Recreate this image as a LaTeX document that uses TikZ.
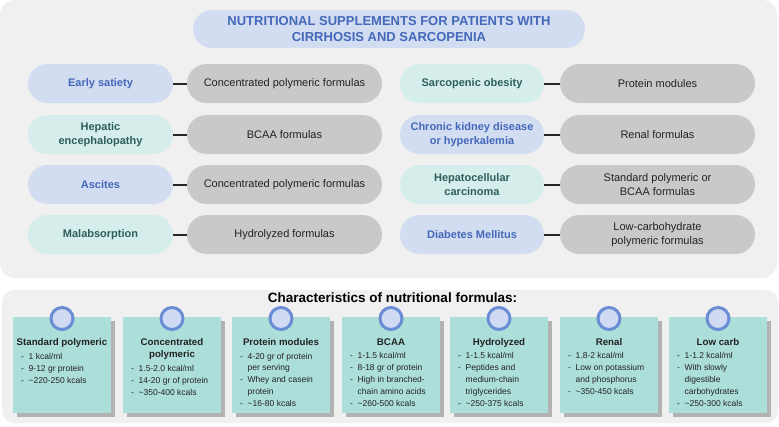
\documentclass[tikz,border=0pt]{standalone}
\usepackage{fontspec}
\setmainfont{Liberation Sans}
\usetikzlibrary{shadows}
\definecolor{panelbg}{HTML}{F0F0F0}
\definecolor{bluefill}{HTML}{D3DDF1}
\definecolor{bluetext}{HTML}{4468BA}
\definecolor{tealfill}{HTML}{D5EEEC}
\definecolor{tealtext}{HTML}{2D5E5C}
\definecolor{greyfill}{HTML}{C9C9C9}
\definecolor{cardfill}{HTML}{ADDFDA}
\definecolor{pinline}{HTML}{6A8DD6}
\definecolor{pinfill}{HTML}{D0DAF2}
\definecolor{shadowgrey}{HTML}{B2B2B2}
\definecolor{textdark}{HTML}{222222}
\tikzset{
  panel/.style={fill=panelbg, draw=none},
  pill/.style={rectangle, rounded corners=19.5pt, minimum height=39pt, inner sep=0pt, align=center},
  bluepill/.style={pill, fill=bluefill, text=bluetext, minimum width=145pt, font=\bfseries\fontsize{11}{13.4}\selectfont},
  tealpill/.style={pill, fill=tealfill, text=tealtext, minimum width=145pt, font=\bfseries\fontsize{11}{13.4}\selectfont},
  greypill/.style={pill, fill=greyfill, text=textdark, minimum width=195pt, font=\fontsize{11}{13.8}\selectfont},
  titlepill/.style={rectangle, rounded corners=19pt, fill=bluefill, text=bluetext, minimum width=392pt, minimum height=38pt, inner sep=0pt, align=center, font=\bfseries\fontsize{13}{16}\selectfont},
  conn/.style={line width=2pt, draw=black!85},
  card/.style={rectangle, fill=cardfill, minimum width=98pt, minimum height=95.5pt, inner sep=0pt,
    drop shadow={shadow xshift=4pt, shadow yshift=-4pt, fill=shadowgrey, opacity=1}},
  pinc/.style={circle, draw=pinline, line width=3pt, fill=pinfill, minimum size=22pt, inner sep=0pt},
  hd/.style={font=\bfseries\fontsize{9.7}{12}\selectfont, text=textdark, inner sep=0pt, anchor=base},
  itm/.style={font=\fontsize{8.5}{12}\selectfont, text=textdark, inner sep=0pt, anchor=base west},
  sectitle/.style={font=\bfseries\fontsize{13.5}{16}\selectfont, text=black, inner sep=0pt}
}
\newcommand\dashitem[4]{\node[itm] (#1) at (#2+8,#3) {\makebox[7.5pt][l]{-}#4};}
\newcommand\contitem[4]{\node[itm] (#1) at (#2+15.5,#3) {#4};}
\begin{document}
\begin{tikzpicture}[x=1pt,y=-1pt]
\useasboundingbox (0,0) rectangle (779,426);
% panels
\fill[panel, rounded corners=15pt] (0,0) rectangle (777,278);
\fill[panel, rounded corners=12pt] (2,290) rectangle (778,423);
% title
\node[titlepill] (title) at (389,29) {NUTRITIONAL SUPPLEMENTS FOR PATIENTS WITH\\CIRRHOSIS AND SARCOPENIA};
% left column
\node[bluepill] (l1) at (100.5,83.5) {Early satiety};
\node[greypill] (g1) at (284.5,83.5) {Concentrated polymeric formulas};
\node[tealpill] (l2) at (100.5,134.5) {Hepatic\\encephalopathy};
\node[greypill] (g2) at (284.5,134.5) {BCAA formulas};
\node[bluepill] (l3) at (100.5,184.5) {Ascites};
\node[greypill] (g3) at (284.5,184.5) {Concentrated polymeric formulas};
\node[tealpill] (l4) at (100.5,234.5) {Malabsorption};
\node[greypill] (g4) at (284.5,234.5) {Hydrolyzed formulas};
% right column
\node[tealpill, minimum width=144pt] (r1) at (472,83.5) {Sarcopenic obesity};
\node[greypill] (h1) at (657.5,83.5) {Protein modules};
\node[bluepill, minimum width=144pt] (r2) at (472,134.5) {Chronic kidney disease\\or hyperkalemia};
\node[greypill] (h2) at (657.5,134.5) {Renal formulas};
\node[tealpill, minimum width=144pt] (r3) at (472,184.5) {Hepatocellular\\carcinoma};
\node[greypill] (h3) at (657.5,184.5) {Standard polymeric or\\BCAA formulas};
\node[bluepill, minimum width=144pt] (r4) at (472,234.5) {Diabetes Mellitus};
\node[greypill] (h4) at (657.5,234.5) {Low-carbohydrate\\polymeric formulas};
% connectors
\foreach \i in {1,2,3,4} {
  \draw[conn] (l\i.east) -- (g\i.west);
  \draw[conn] (r\i.east) -- (h\i.west);
}
% bottom section
\node[sectitle] (sec) at (392.5,298) {Characteristics of nutritional formulas:};
\foreach \cx [count=\k] in {62,172,281,391,499,609,718} {
  \node[card] (c\k) at (\cx,364.75) {};
  \node[pinc] (p\k) at (\cx,318.5) {};
}
% card 1
\node[hd] (t1) at (62,345.5) {Standard polymeric};
\dashitem{a1}{13}{359}{1 kcal/ml}
\dashitem{a2}{13}{371}{9-12 gr protein}
\dashitem{a3}{13}{383}{\textasciitilde220-250 kcals}
% card 2
\node[hd] (t2a) at (172,345.5) {Concentrated};
\node[hd] (t2b) at (172,357.5) {polymeric};
\dashitem{b1}{123}{371}{1.5-2.0 kcal/ml}
\dashitem{b2}{123}{383}{14-20 gr of protein}
\dashitem{b3}{123}{395.5}{\textasciitilde350-400 kcals}
% card 3
\node[hd] (t3) at (281,345.5) {Protein modules};
\dashitem{d1}{232}{359}{4-20 gr of protein}
\contitem{d2}{232}{370}{per serving}
\dashitem{d3}{232}{382.5}{Whey and casein}
\contitem{d4}{232}{394}{protein}
\dashitem{d5}{232}{406}{\textasciitilde16-80 kcals}
% card 4
\node[hd] (t4) at (391,345.5) {BCAA};
\dashitem{e1}{342}{358.5}{1-1.5 kcal/ml}
\dashitem{e2}{342}{370.5}{8-18 gr of protein}
\dashitem{e3}{342}{382.5}{High in branched-}
\contitem{e4}{342}{394.5}{chain amino acids}
\dashitem{e5}{342}{406.5}{\textasciitilde260-500 kcals}
% card 5
\node[hd] (t5) at (499,345.5) {Hydrolyzed};
\dashitem{f1}{450}{358.5}{1-1.5 kcal/ml}
\dashitem{f2}{450}{370.5}{Peptides and}
\contitem{f3}{450}{382.5}{medium-chain}
\contitem{f4}{450}{394.5}{triglycerides}
\dashitem{f5}{450}{406.5}{\textasciitilde250-375 kcals}
% card 6
\node[hd] (t6) at (609,345.5) {Renal};
\dashitem{m1}{560}{358.5}{1.8-2 kcal/ml}
\dashitem{m2}{560}{370.5}{Low on potassium}
\contitem{m3}{560}{382.5}{and phosphorus}
\dashitem{m4}{560}{394.5}{\textasciitilde350-450 kcals}
% card 7
\node[hd] (t7) at (718,345.5) {Low carb};
\dashitem{n1}{669}{358.5}{1-1.2 kcal/ml}
\dashitem{n2}{669}{370.5}{With slowly}
\contitem{n3}{669}{382.5}{digestible}
\contitem{n4}{669}{394.5}{carbohydrates}
\dashitem{n5}{669}{406.5}{\textasciitilde250-300 kcals}
\end{tikzpicture}
\end{document}
